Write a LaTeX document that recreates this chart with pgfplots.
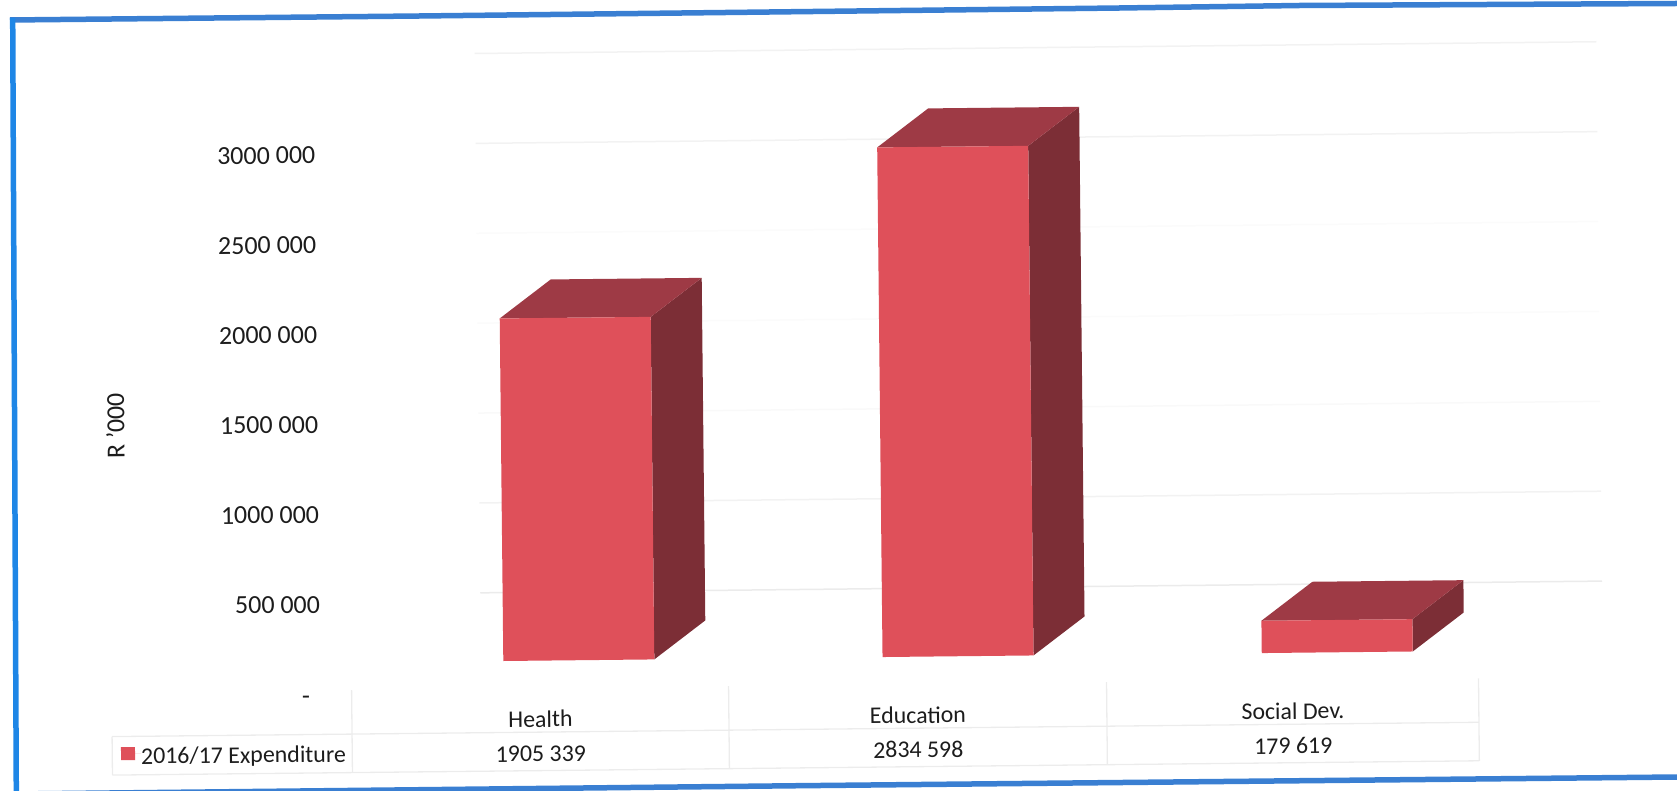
\documentclass[border=0pt]{standalone}
\usepackage{fontspec}
\setmainfont{Carlito}
\usepackage{pgfplots}
\pgfplotsset{compat=1.18}
\definecolor{front}{HTML}{DF505A}
\definecolor{topface}{HTML}{9E3A45}
\definecolor{sideface}{HTML}{7C2E36}
\definecolor{frameL}{HTML}{1E86E6}
\definecolor{frameT}{HTML}{3A7FD2}
\definecolor{tbl}{HTML}{ECECEC}
\definecolor{ink}{HTML}{1C1C1C}
\newcommand{\axisfont}{\fontsize{26}{28}\selectfont}
\newcommand{\tablefont}{\fontsize{23.9}{26}\selectfont}
\pgfplotsset{
  gridline/.style={forget plot, mark=none, line width=1.5pt, yshift=10pt},
  face/.style={forget plot, mark=none, draw=none, fill=#1, yshift=31.5pt},
}
\begin{document}
\begin{tikzpicture}[x=1pt,y=1pt]
\path[use as bounding box] (0,0) rectangle (1677,790);
% outer frame
\draw[frameT,line width=5.5pt] (10,770) -- (420,774) -- (1120,782) -- (1300,784.5) -- (1677,786.5);
\draw[frameL,line width=5.5pt] (12.7,772) -- (14,490) -- (16.3,-2);
\draw[frameT,line width=5.5pt] (14,-4) -- (300,-1) -- (800,4.3) -- (1677,13);
\begin{scope}[transform canvas={rotate around={0.6:(838,395)}}]
\begin{axis}[
  at={(330pt,101pt)}, anchor=south west,
  scale only axis, width=1270pt, height=629.3pt,
  xmin=-0.6487, xmax=2.7, ymin=0, ymax=3500000,
  clip=false,
  scaled y ticks=false,
  axis line style={draw=none},
  major tick length=0pt,
  tick style={draw=none},
  xtick={-0.1028,0.8926,1.8814},
  xticklabels={Health,Education,Social Dev.},
  xticklabel style={font=\tablefont,text=ink,anchor=base,yshift=-35pt,inner sep=0pt},
  ytick={0,500000,1000000,1500000,2000000,2500000,3000000},
  yticklabels={\rule{0pt}{20pt}-\rule{11pt}{0pt},500 000,1000 000,1500 000,2000 000,2500 000,3000 000},
  yticklabel style={font=\axisfont,text=ink,anchor=east,inner sep=0pt,xshift=-12pt},
  ylabel={R ’000},
  ylabel style={font=\axisfont,text=ink,at={(rel axis cs:-0.1693,0.43)},anchor=center,inner sep=0pt},
  legend style={at={(rel axis cs:-0.1675,-0.0953)},anchor=west,draw=none,fill=none,
    inner sep=0pt,outer sep=0pt,font=\tablefont,text=ink,
    nodes={inner sep=0pt}},
  legend cell align=left,
]
% back wall gridlines
\addplot[gridline,color=black!5] coordinates {(-0.258,3500000) (2.70,3500000)};
\addplot[gridline,color=black!5] coordinates {(-0.258,3000000) (2.70,3000000)};
\addplot[gridline,color=black!1.5] coordinates {(-0.258,2500000) (2.70,2500000)};
\addplot[gridline,color=black!1.5] coordinates {(-0.258,2000000) (2.70,2000000)};
\addplot[gridline,color=black!2.5] coordinates {(-0.258,1500000) (2.70,1500000)};
\addplot[gridline,color=black!5] coordinates {(-0.258,1000000) (2.70,1000000)};
\addplot[gridline,color=black!8] coordinates {(-0.258,500000) (2.70,500000)};
% Health
\addplot[face=sideface] coordinates {(0.1991,0) (0.3346,214000) (0.3346,2119339) (0.1991,1905339) (0.1991,0)};
\addplot[face=topface] coordinates {(-0.1991,1905339) (0.1991,1905339) (0.3346,2119339) (-0.0636,2119339) (-0.1991,1905339)};
% Education
\addplot[face=sideface] coordinates {(1.1991,0) (1.3346,214000) (1.3346,3048598) (1.1991,2834598) (1.1991,0)};
\addplot[face=topface] coordinates {(0.8009,2834598) (1.1991,2834598) (1.3346,3048598) (0.9364,3048598) (0.8009,2834598)};
% Social Dev.
\addplot[face=sideface] coordinates {(2.1991,0) (2.3346,214000) (2.3346,393619) (2.1991,179619) (2.1991,0)};
\addplot[face=topface] coordinates {(1.8009,179619) (2.1991,179619) (2.3346,393619) (1.9364,393619) (1.8009,179619)};
% front faces of the bars
\addplot[ybar,bar width=151pt,bar shift=0pt,fill=front,draw=none,yshift=31.5pt,
  legend image code/.code={\fill[front] (0pt,-35pt) rectangle (14pt,-22pt);
    \path (14pt,-28pt) -- (20pt,-28pt);}]
  coordinates {(0,1905339) (1,2834598) (2,179619)};
\addlegendentry{2016/17 Expenditure}
% data row of the table
\node[font=\tablefont,text=ink,anchor=base,inner sep=0pt] at (axis cs:-0.1028,-386500) {1905 339};
\node[font=\tablefont,text=ink,anchor=base,inner sep=0pt] at (axis cs:0.8926,-386500) {2834 598};
\node[font=\tablefont,text=ink,anchor=base,inner sep=0pt] at (axis cs:1.8814,-386500) {179 619};
\end{axis}
% table rules
\draw[tbl,line width=1.3pt] (108.5,61) -- (1475.5,61);
\draw[tbl,line width=1.3pt] (108.5,22.5) -- (1475.5,22.5);
\draw[tbl,line width=1.3pt] (108.5,61) -- (108.5,22.5);
\draw[tbl,line width=1.3pt] (348.5,105) -- (348.5,22.5);
\draw[tbl,line width=1.3pt] (725.5,105) -- (725.5,22.5);
\draw[tbl,line width=1.3pt] (1103.5,105) -- (1103.5,22.5);
\draw[tbl,line width=1.3pt] (1475.5,105) -- (1475.5,22.5);
\end{scope}
\end{tikzpicture}
\end{document}
